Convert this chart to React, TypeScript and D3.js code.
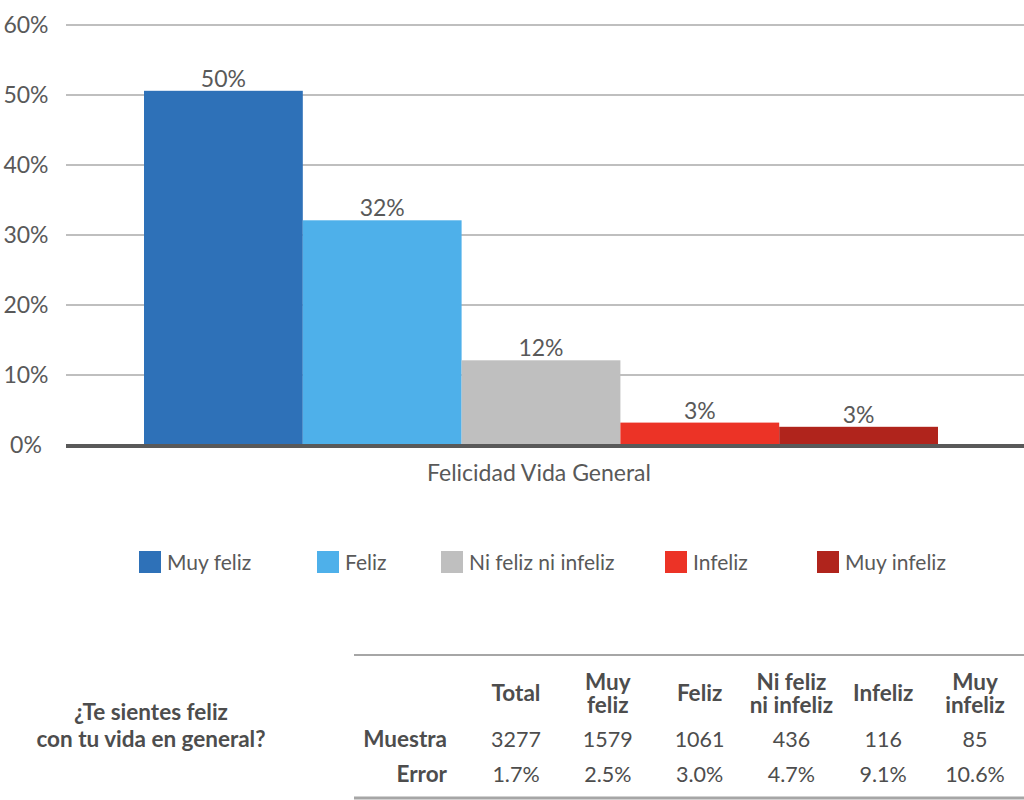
import * as d3 from "d3";
import { useEffect, useRef } from "react";

const categories = ["Muy feliz", "Feliz", "Ni feliz ni infeliz", "Infeliz", "Muy infeliz"];
const values = [50.6, 32.1, 12.1, 3.2, 2.6];
const valueLabels = ["50%", "32%", "12%", "3%", "3%"];
const colors = ["#2e71b8", "#4eb0ea", "#bfbfbf", "#ec3326", "#b0241c"];
const groupLabel = "Felicidad Vida General";
const yTicks = [0, 10, 20, 30, 40, 50, 60];

const tableHeaders = [["Total"], ["Muy", "feliz"], ["Feliz"], ["Ni feliz", "ni infeliz"], ["Infeliz"], ["Muy", "infeliz"]];
const sampleRow = ["3277", "1579", "1061", "436", "116", "85"];
const errorRow = ["1.7%", "2.5%", "3.0%", "4.7%", "9.1%", "10.6%"];
const question = ["¿Te sientes feliz", "con tu vida en general?"];

const W = 1024;
const H = 800;
const FONT = "Lato, 'Open Sans', sans-serif";
const GREY = "#595959";

export default function App() {
  const ref = useRef<SVGSVGElement>(null);

  useEffect(() => {
    if (!ref.current) return;
    const svg = d3.select(ref.current);
    svg.selectAll("*").remove();
    svg.attr("font-family", FONT);

    const y = d3.scaleLinear().domain([0, 60]).range([445, 25]);
    const x = d3.scaleBand<string>().domain(categories).range([144, 938]).padding(0);

    // gridlines
    svg
      .append("g")
      .selectAll("line")
      .data(yTicks.filter((t) => t > 0))
      .join("line")
      .attr("x1", 66)
      .attr("x2", W)
      .attr("y1", (d) => y(d))
      .attr("y2", (d) => y(d))
      .attr("stroke", "#bfbfbf")
      .attr("stroke-width", 2);

    // y tick labels
    svg
      .append("g")
      .selectAll("text")
      .data(yTicks)
      .join("text")
      .attr("x", 26)
      .attr("y", (d) => y(d))
      .attr("dy", "0.36em")
      .attr("text-anchor", "middle")
      .attr("font-size", 23)
      .attr("fill", GREY)
      .text((d) => `${d}%`);

    // bars
    svg
      .append("g")
      .selectAll("rect")
      .data(values)
      .join("rect")
      .attr("x", (_, i) => x(categories[i])!)
      .attr("width", x.bandwidth())
      .attr("y", (d) => y(d))
      .attr("height", (d) => y(0) - y(d))
      .attr("fill", (_, i) => colors[i]);

    // value labels
    svg
      .append("g")
      .selectAll("text")
      .data(values)
      .join("text")
      .attr("x", (_, i) => x(categories[i])! + x.bandwidth() / 2)
      .attr("y", (d) => y(d) - 4)
      .attr("text-anchor", "middle")
      .attr("font-size", 23)
      .attr("fill", GREY)
      .text((_, i) => valueLabels[i]);

    // baseline
    svg
      .append("line")
      .attr("x1", 66)
      .attr("x2", W)
      .attr("y1", y(0) + 1)
      .attr("y2", y(0) + 1)
      .attr("stroke", "#595959")
      .attr("stroke-width", 4);

    svg
      .append("text")
      .attr("x", 539)
      .attr("y", 481)
      .attr("text-anchor", "middle")
      .attr("font-size", 23)
      .attr("fill", GREY)
      .text(groupLabel);

    // legend
    const legendX = [139, 317, 441, 665, 817];
    const legend = svg
      .append("g")
      .selectAll("g")
      .data(categories)
      .join("g")
      .attr("transform", (_, i) => `translate(${legendX[i]},551)`);
    legend
      .append("rect")
      .attr("width", 22)
      .attr("height", 22)
      .attr("fill", (_, i) => colors[i]);
    legend
      .append("text")
      .attr("x", 28)
      .attr("y", 11)
      .attr("dy", "0.36em")
      .attr("font-size", 21)
      .attr("fill", GREY)
      .text((d) => d);

    // table
    const col = d3.scalePoint<number>().domain(d3.range(6)).range([516, 975]);
    const table = svg.append("g").attr("fill", "#4d4d4d");
    table
      .append("line")
      .attr("x1", 354)
      .attr("x2", W)
      .attr("y1", 655)
      .attr("y2", 655)
      .attr("stroke", "#a6a6a6")
      .attr("stroke-width", 2);
    table
      .append("line")
      .attr("x1", 354)
      .attr("x2", W)
      .attr("y1", 798)
      .attr("y2", 798)
      .attr("stroke", "#a6a6a6")
      .attr("stroke-width", 3);

    const heads = table
      .selectAll("text.head")
      .data(tableHeaders)
      .join("text")
      .attr("class", "head")
      .attr("text-anchor", "middle")
      .attr("font-size", 22.5)
      .attr("font-weight", "bold");
    heads
      .selectAll("tspan")
      .data((d, i) => d.map((s, j) => ({ s, j, n: d.length, i })))
      .join("tspan")
      .attr("x", (d) => col(d.i)!)
      .attr("y", (d) => (d.n === 1 ? 701 : 690 + d.j * 23))
      .text((d) => d.s);

    const rows = [
      { name: "Muestra", cells: sampleRow, y: 747 },
      { name: "Error", cells: errorRow, y: 782 },
    ];
    rows.forEach((r) => {
      table
        .append("text")
        .attr("x", 447)
        .attr("y", r.y)
        .attr("text-anchor", "end")
        .attr("font-size", 22.5)
        .attr("font-weight", "bold")
        .text(r.name);
      table
        .append("g")
        .selectAll("text")
        .data(r.cells)
        .join("text")
        .attr("x", (_, i) => col(i)!)
        .attr("y", r.y)
        .attr("text-anchor", "middle")
        .attr("font-size", 21.5)
        .text((d) => d);
    });

    table
      .append("g")
      .selectAll("text")
      .data(question)
      .join("text")
      .attr("x", 151)
      .attr("y", (_, i) => 720 + i * 27)
      .attr("text-anchor", "middle")
      .attr("font-size", 22.5)
      .attr("font-weight", "bold")
      .text((d) => d);
  }, []);

  return (
    <svg
      ref={ref}
      width={W}
      height={H}
      style={{ position: "absolute", left: 0, top: 0, background: "#fff" }}
    />
  );
}
